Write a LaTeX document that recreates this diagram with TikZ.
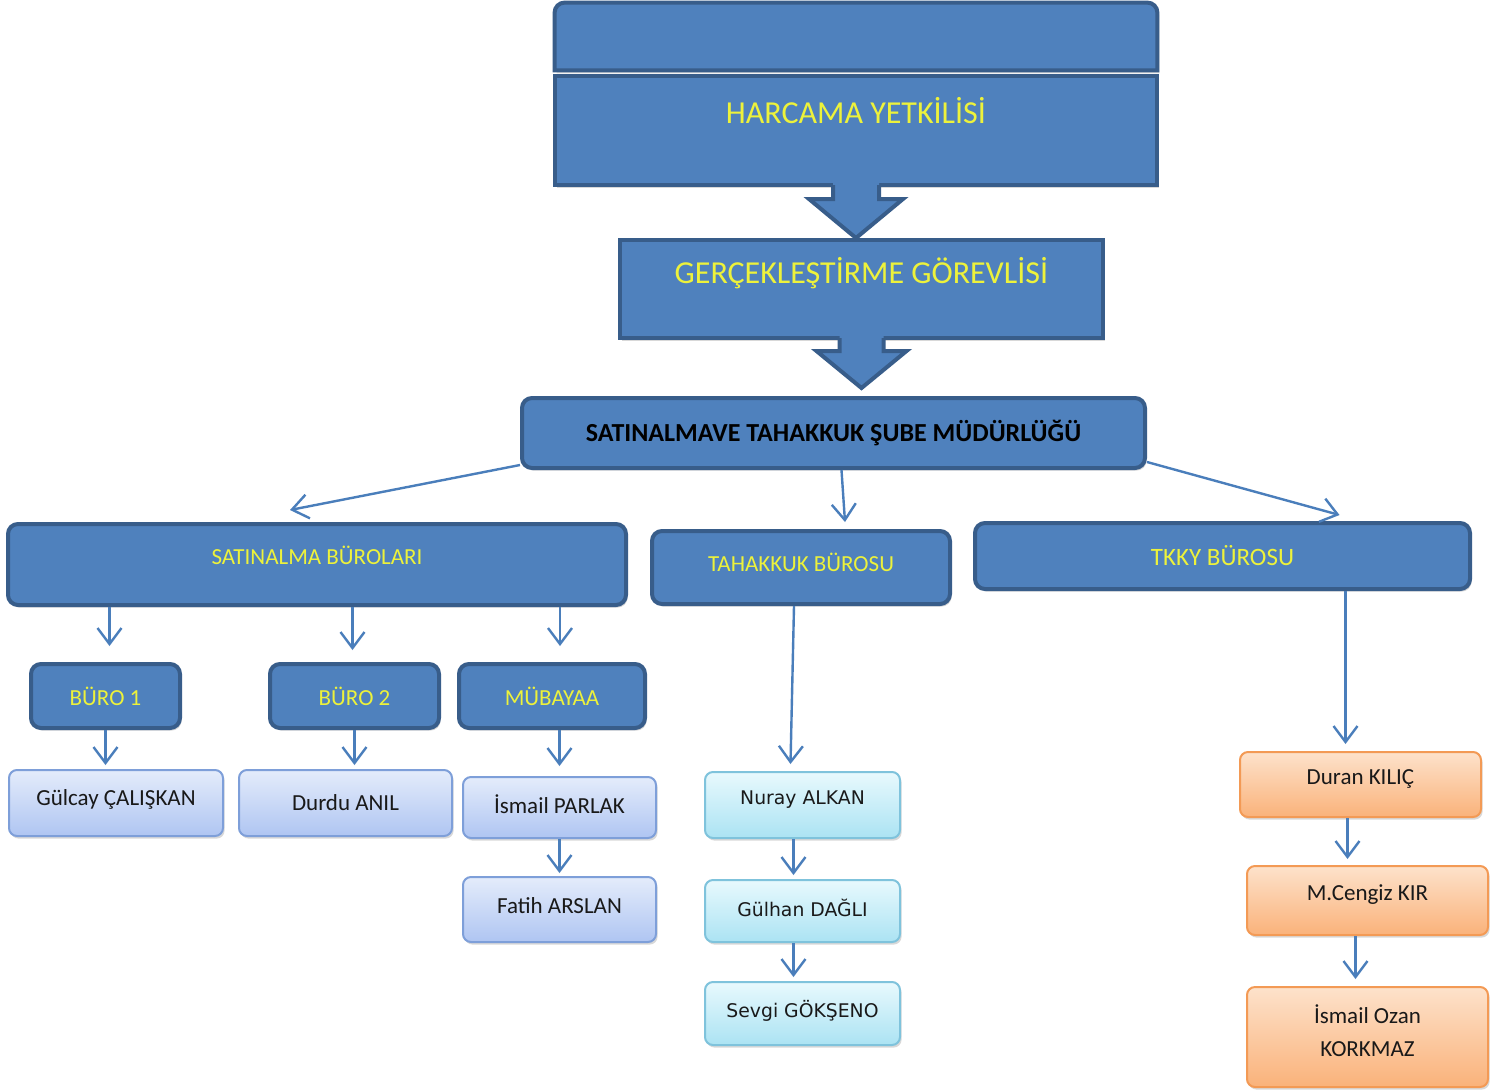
\documentclass[tikz,border=0pt]{standalone}
\usepackage{fontspec}
\setmainfont{Carlito}
\newfontfamily\dvs{DejaVu Sans}
\usetikzlibrary{arrows.meta,shadows,calc}
\definecolor{dkfill}{HTML}{4F81BD}
\definecolor{dkline}{HTML}{385D8A}
\definecolor{ylw}{HTML}{EDF23B}
\definecolor{cnc}{HTML}{4A7EBB}
\definecolor{blT}{HTML}{E4ECFB}
\definecolor{blB}{HTML}{AFC5F2}
\definecolor{blL}{HTML}{7E9FD9}
\definecolor{cyT}{HTML}{E8F9FD}
\definecolor{cyB}{HTML}{ABE3F3}
\definecolor{cyL}{HTML}{7FC3DC}
\definecolor{orT}{HTML}{FDE2CB}
\definecolor{orB}{HTML}{FAB27A}
\definecolor{orL}{HTML}{F39A55}
\newcommand\liftt[2]{\raisebox{#1}[\height][\depth]{#2}}
\begin{document}
\begin{tikzpicture}[x=0.5pt,y=-0.5pt,
  geom/.style n args={4}{at={({(#1+#3)/2},{(#2+#4)/2})},minimum width={(#3-#1)*0.5pt},minimum height={(#4-#2)*0.5pt}},
  shd/.style={drop shadow={shadow xshift=0.8pt,shadow yshift=-1.3pt,opacity=0.3}},
  sqbox/.style={draw=dkline,fill=dkfill,line width=2pt,inner sep=0pt,text=ylw,font=\fontsize{16}{19}\selectfont,shd},
  dbox/.style={draw=dkline,fill=dkfill,line width=2pt,rounded corners=5pt,inner sep=0pt,text=ylw,font=\fontsize{11.5}{14}\selectfont,shd},
  bluebox/.style={draw=blL,line width=1pt,top color=blT,bottom color=blB,rounded corners=4pt,inner sep=0pt,text=black!90,font=\fontsize{11.5}{14}\selectfont,shd},
  cyanbox/.style={draw=cyL,line width=1pt,top color=cyT,bottom color=cyB,rounded corners=4pt,inner sep=0pt,text=black!90,font=\dvs\fontsize{9.4}{12}\selectfont,shd},
  orbox/.style={draw=orL,line width=1pt,top color=orT,bottom color=orB,rounded corners=4pt,inner sep=0pt,text=black!90,font=\fontsize{11.5}{16.5}\selectfont,shd},
  cn/.style={draw=cnc,line width=1.2pt,-{Straight Barb[length=8pt,width=12pt,line width=1.2pt]}},
  barrow/.style={draw=dkline,line width=2pt,line join=miter}]
\useasboundingbox (0,0) rectangle (1506,1089);
\fill[white] (0,0) rectangle (1506,1089);

% top decorative band
\node[inner sep=0pt,geom={555}{3}{1157}{70}] (top) {};
\fill[gray,opacity=0.25] ([shift={(2,3)}]top.south west) [rounded corners=5pt] -- ([shift={(2,3)}]top.north west) -- ([shift={(2,3)}]top.north east) [sharp corners] -- ([shift={(2,3)}]top.south east) -- cycle;
\draw[draw=dkline,fill=dkfill,line width=2pt] (top.south west) [rounded corners=5pt] -- (top.north west) -- (top.north east) [sharp corners] -- (top.south east) -- cycle;

\node[sqbox,geom={555}{76}{1157}{185}] (h) {\liftt{10pt}{HARCAMA YETKİLİSİ}};
\node[sqbox,geom={620}{240}{1103}{338}] (g) {\liftt{8pt}{GERÇEKLEŞTİRME GÖREVLİSİ}};
\node[dbox,geom={522}{398}{1145}{468},text=black,font=\fontsize{13}{15}\selectfont\bfseries] (m) {SATINALMAVE TAHAKKUK ŞUBE MÜDÜRLÜĞÜ};
\node[dbox,geom={8}{524}{626}{605}] (sb) {\liftt{4.75pt}{SATINALMA BÜROLARI}};
\node[dbox,geom={652}{531}{950}{604}] (tb) {\liftt{2.75pt}{TAHAKKUK BÜROSU}};
\node[dbox,geom={975}{523}{1470}{589},font=\fontsize{12.5}{15}\selectfont] (kb) {TKKY BÜROSU};
\node[dbox,geom={31}{664}{180}{728}] (b1) {BÜRO 1};
\node[dbox,geom={270}{664}{439}{728}] (b2) {BÜRO 2};
\node[dbox,geom={459}{664}{645}{728}] (mb) {MÜBAYAA};

\node[bluebox,geom={9}{770}{223}{836}] (n1) {\liftt{2pt}{Gülcay ÇALIŞKAN}};
\node[bluebox,geom={239}{770}{452}{836}] (n2) {Durdu ANIL};
\node[bluebox,geom={463}{777}{656}{838}] (n3) {\liftt{1.75pt}{İsmail PARLAK}};
\node[bluebox,geom={463}{877}{656}{942}] (n4) {\liftt{2pt}{Fatih ARSLAN}};

\node[cyanbox,geom={705}{772}{900}{838}] (t1) {\liftt{2.5pt}{Nuray ALKAN}};
\node[cyanbox,geom={705}{880}{900}{942}] (t2) {\liftt{1.5pt}{Gülhan DAĞLI}};
\node[cyanbox,geom={705}{982}{900}{1045}] (t3) {\liftt{1.5pt}{Sevgi GÖKŞENO}};

\node[orbox,geom={1240}{752}{1481}{817}] (k1) {\liftt{2.75pt}{Duran KILIÇ}};
\node[orbox,geom={1247}{866}{1488}{935}] (k2) {\liftt{3pt}{M.Cengiz KIR}};
\node[orbox,geom={1247}{987}{1488}{1087}] (k3) {\liftt{2pt}{\begin{tabular}{@{}c@{}}İsmail Ozan\\KORKMAZ\end{tabular}}};

% block arrows
\fill[dkfill] ([shift={(-23,-6)}]h.south) -- ([shift={(-23,12)}]h.south) -- ([shift={(-47,12)}]h.south) -- (h.south |- g.north) -- ([shift={(47,12)}]h.south) -- ([shift={(23,12)}]h.south) -- ([shift={(23,-6)}]h.south) -- cycle;
\draw[barrow] ([shift={(-23,-2)}]h.south) -- ([shift={(-23,12)}]h.south) -- ([shift={(-47,12)}]h.south) -- (h.south |- g.north) -- ([shift={(47,12)}]h.south) -- ([shift={(23,12)}]h.south) -- ([shift={(23,-2)}]h.south);
\coordinate (a2t) at (g.south |- m.north);
\fill[dkfill] ([shift={(-22,-6)}]g.south) -- ([shift={(-22,11)}]g.south) -- ([shift={(-45,11)}]g.south) -- ([shift={(0,-8)}]a2t) -- ([shift={(45,11)}]g.south) -- ([shift={(22,11)}]g.south) -- ([shift={(22,-6)}]g.south) -- cycle;
\draw[barrow] ([shift={(-22,-2)}]g.south) -- ([shift={(-22,11)}]g.south) -- ([shift={(-45,11)}]g.south) -- ([shift={(0,-8)}]a2t) -- ([shift={(45,11)}]g.south) -- ([shift={(22,11)}]g.south) -- ([shift={(22,-2)}]g.south);

% connectors
\draw[cn] ([shift={(0,-5)}]m.south west) -- ([shift={(-27,-12)}]sb.north);
\draw[cn] ([shift={(8,0)}]m.south) -- ([shift={(44,-7)}]tb.north);
\draw[cn] ([shift={(0,-8)}]m.south east) -- ([shift={(117,-6)}]kb.north);

\coordinate (s1) at ([shift={(4,0)}]b1.north);
\coordinate (s2) at ([shift={(-2,0)}]b2.north);
\coordinate (s3) at ([shift={(8,0)}]mb.north);
\draw[cn,shorten >=8pt] (sb.south -| s1) -- (s1);
\draw[cn,shorten >=6pt] (sb.south -| s2) -- (s2);
\draw[cn,shorten >=8pt] (sb.south -| s3) -- (s3);

\draw[cn,shorten >=2pt] (b1.south) -- (b1.south |- n1.north);
\draw[cn,shorten >=2pt] (b2.south) -- (b2.south |- n2.north);
\draw[cn,shorten >=5pt] (n3.north |- mb.south) -- (n3.north);
\draw[cn,shorten >=1.5pt] (n3.south) -- (n3.south |- n4.north);

\draw[cn] ([shift={(-7,0)}]tb.south) -- ([shift={(-12,-7)}]t1.north);
\draw[cn,shorten >=2pt] ([shift={(-9,0)}]t1.south) -- ([shift={(-9,0)}]t2.north);
\draw[cn,shorten >=2pt] ([shift={(-9,0)}]t2.south) -- ([shift={(-9,0)}]t3.north);

\coordinate (q1) at ([shift={(-15,0)}]k1.north);
\draw[cn,shorten >=3.5pt] (q1 |- kb.south) -- (q1);
\draw[cn,shorten >=3pt] ([shift={(-13,0)}]k1.south) -- ([shift={(-20,0)}]k2.north);
\draw[cn,shorten >=3.5pt] ([shift={(-12,0)}]k2.south) -- ([shift={(-12,0)}]k3.north);
\end{tikzpicture}
\end{document}
